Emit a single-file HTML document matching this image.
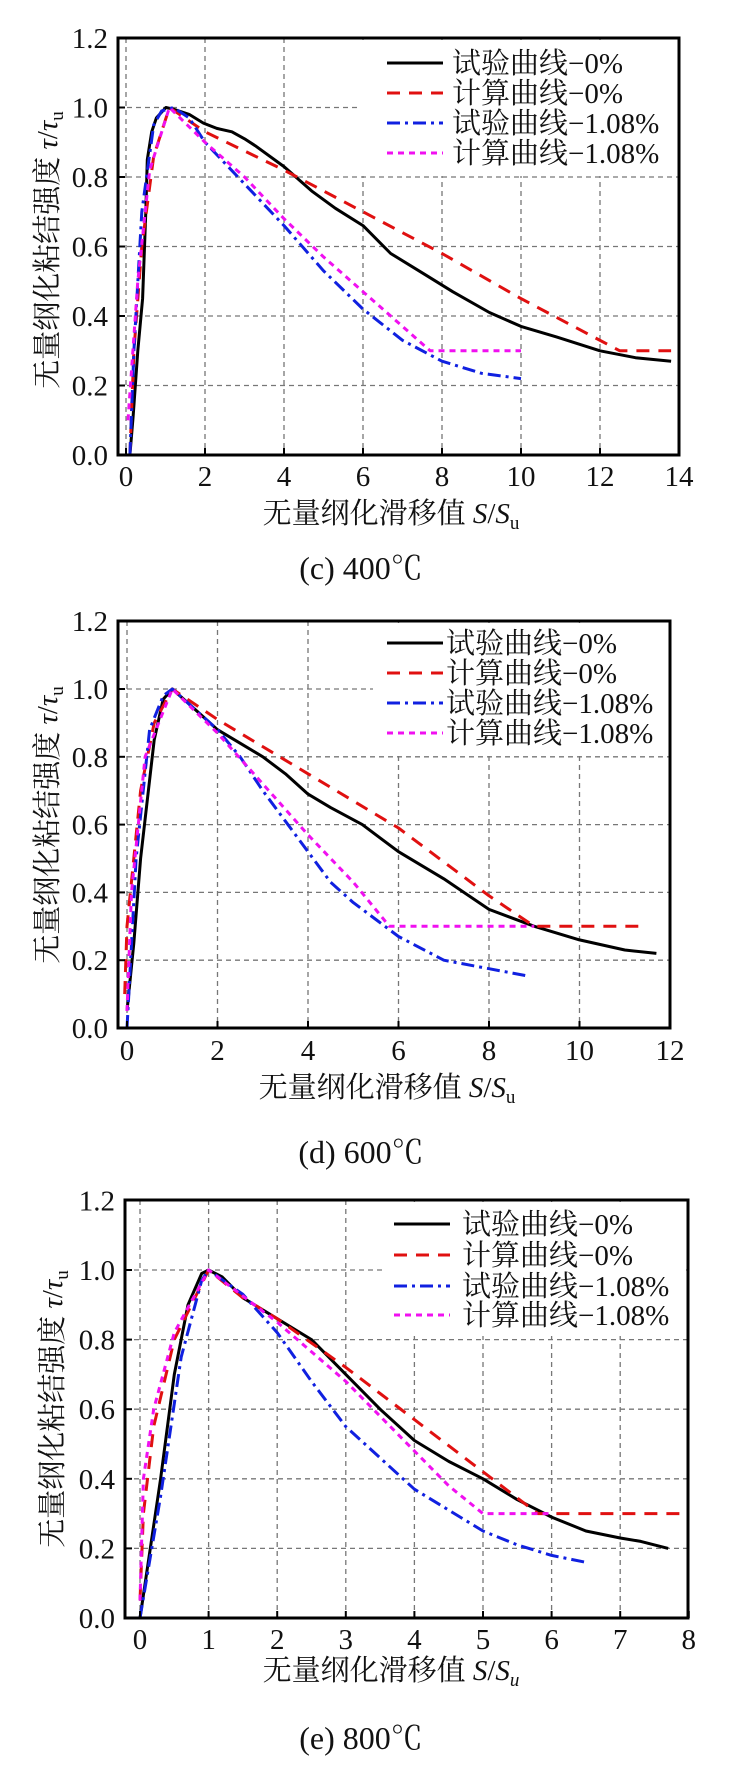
<!DOCTYPE html>
<html><head><meta charset="utf-8">
<style>
html,body{margin:0;padding:0;background:#fff;}
svg{display:block;}
text{font-family:"Liberation Serif","Noto Serif CJK SC","Noto Sans CJK SC",serif;fill:#111;}
</style></head>
<body>
<svg id="s" width="742" height="1784" viewBox="0 0 742 1784" xmlns="http://www.w3.org/2000/svg"></svg>
<script>
const S=document.getElementById('s');let h='';
const charts=[
 {x0:126,xs:39.5,xmax:14,step:2,y0:455,ys:347.5,fl:118,fr:679,ft:38,
  leg:{rx:361,ry:40,rw:317,rh:136,lx1:387,lx2:443,tx:452,ys:[63,93,123,153]},
  ytitle:[47,250],xl:[391,513],cap:[361,568],tly:486,capT:"(c) 400℃",uItal:false,
  data:[
   [[0.1,0],[0.18,0.11],[0.3,0.3],[0.42,0.45],[0.5,0.7],[0.54,0.85],[0.65,0.93],[0.77,0.97],[1.01,1.0],[1.2,0.995],[1.6,0.98],[1.96,0.955],[2.3,0.94],[2.68,0.93],[3,0.91],[3.27,0.89],[4,0.83],[4.7,0.76],[5.3,0.71],[6,0.66],[6.7,0.58],[7.56,0.52],[8.27,0.47],[9.2,0.41],[10,0.37],[10.9,0.34],[12,0.30],[12.9,0.28],[13.8,0.27]],
   [[0.1,0],[0.2,0.3],[0.4,0.6],[0.7,0.86],[1.1,1.0],[2,0.93],[4,0.82],[6,0.70],[8,0.58],[10,0.45],[12.5,0.3],[13.8,0.3]],
   [[0.1,0],[0.2,0.3],[0.4,0.7],[0.7,0.95],[0.9,0.99],[1.2,1.0],[1.6,0.97],[2,0.9],[3,0.78],[4,0.66],[5,0.53],[6,0.42],[7,0.33],[8,0.27],[9,0.235],[10,0.22]],
   [[0.05,0.1],[0.3,0.5],[0.6,0.82],[1.1,1.0],[2,0.9],[3,0.8],[4,0.68],[5,0.57],[6,0.47],[7,0.37],[7.7,0.3],[10,0.3]]
  ]},
 {x0:127,xs:45.25,xmax:12,step:2,y0:1028,ys:339,fl:118,fr:670,ft:621,
  leg:{rx:373,ry:623,rw:296,rh:132,lx1:387,lx2:443,tx:446,ys:[643,673,703,733]},
  ytitle:[47,825],xl:[387,1087],cap:[361,1152],tly:1060,capT:"(d) 600℃",uItal:false,
  data:[
   [[0,0.05],[0.15,0.25],[0.3,0.5],[0.6,0.85],[0.8,0.97],[1,1.0],[1.5,0.94],[2,0.88],[2.5,0.84],[3,0.8],[3.5,0.75],[4,0.69],[4.5,0.65],[5.2,0.6],[6,0.52],[7,0.44],[8,0.35],[9,0.3],[10,0.26],[11,0.23],[11.7,0.22]],
   [[-0.05,0.1],[0,0.3],[0.3,0.7],[0.6,0.9],[1,1.0],[2,0.91],[4,0.75],[6,0.59],[8,0.39],[9,0.3],[11.3,0.3]],
   [[0,0],[0.2,0.5],[0.5,0.88],[0.8,0.98],[1,1.0],[1.5,0.94],[2,0.88],[2.5,0.8],[3,0.7],[3.5,0.61],[4,0.52],[4.5,0.43],[5,0.37],[5.5,0.32],[6,0.27],[7,0.2],[8,0.175],[8.8,0.155]],
   [[0,0.05],[0.1,0.4],[0.4,0.8],[1,1.0],[2,0.87],[3,0.72],[4,0.57],[5,0.43],[5.8,0.3],[9,0.3]]
  ]},
 {x0:140,xs:68.6,xmax:8,step:1,y0:1618,ys:348,fl:125,fr:688,ft:1200,
  leg:{rx:384,ry:1202,rw:302,rh:134,lx1:394,lx2:450,tx:462,ys:[1224,1255,1286,1315]},
  ytitle:[52,1409],xl:[391,1670],cap:[361,1738],tly:1649,capT:"(e) 800℃",uItal:true,
  data:[
   [[0,0],[0.3,0.4],[0.5,0.7],[0.7,0.9],[0.9,0.99],[1,1.0],[1.2,0.98],[1.5,0.92],[2,0.86],[2.5,0.8],[3,0.7],[3.5,0.6],[4,0.51],[4.5,0.45],[5,0.4],[5.5,0.34],[6,0.29],[6.5,0.25],[7,0.23],[7.3,0.22],[7.7,0.2]],
   [[0,0.05],[0.05,0.3],[0.2,0.55],[0.5,0.8],[1,1.0],[1.5,0.92],[2,0.86],[3,0.72],[4,0.57],[5,0.42],[5.8,0.3],[7.9,0.3]],
   [[0,0],[0.3,0.35],[0.6,0.75],[0.9,0.97],[1,1.0],[1.5,0.93],[2,0.82],[2.5,0.68],[3,0.55],[3.5,0.46],[4,0.37],[4.5,0.31],[5,0.25],[5.5,0.21],[6,0.18],[6.5,0.16]],
   [[0,0.05],[0.05,0.4],[0.2,0.6],[0.5,0.82],[1,1.0],[2,0.85],[3,0.68],[4,0.48],[4.5,0.38],[5,0.3],[6,0.3]]
  ]}
];
const styles=[
 'stroke="#000" stroke-width="3"',
 'stroke="#e01010" stroke-width="3" stroke-dasharray="13 9"',
 'stroke="#1020e0" stroke-width="3" stroke-dasharray="13 5 3 5"',
 'stroke="#f010f0" stroke-width="3" stroke-dasharray="6 5"'];
const labels=['试验曲线−0%','计算曲线−0%','试验曲线−1.08%','计算曲线−1.08%'];
for(const c of charts){
 const X=v=>c.x0+c.xs*v, Y=v=>c.y0-c.ys*v;
 for(let v=0;v<=c.xmax+1e-9;v+=c.step){const x=X(v);h+=`<line x1="${x}" y1="${c.ft}" x2="${x}" y2="${c.y0}" stroke="#777" stroke-width="1.3" stroke-dasharray="5 4"/>`;}
 for(let k=1;k<=5;k++){const y=Y(k*0.2);h+=`<line x1="${c.fl}" y1="${y}" x2="${c.fr}" y2="${y}" stroke="#777" stroke-width="1.3" stroke-dasharray="5 4"/>`;}
 const L=c.leg;h+=`<rect x="${L.rx}" y="${L.ry}" width="${L.rw}" height="${L.rh}" fill="#fff"/>`;
 c.data.forEach((d,i)=>{h+=`<polyline fill="none" stroke-linejoin="round" ${styles[i]} points="${d.map(p=>X(p[0]).toFixed(1)+','+Y(p[1]).toFixed(1)).join(' ')}"/>`;});
 L.ys.forEach((y,i)=>{h+=`<line x1="${L.lx1}" y1="${y}" x2="${L.lx2}" y2="${y}" ${styles[i]}/>`;
  h+=`<text x="${L.tx}" y="${y+10}" font-size="29">${labels[i]}</text>`;});
 h+=`<rect x="${c.fl}" y="${c.ft}" width="${c.fr-c.fl}" height="${c.y0-c.ft}" fill="none" stroke="#000" stroke-width="3"/>`;
 for(let v=0;v<=c.xmax+1e-9;v+=c.step){const x=X(v);h+=`<line x1="${x}" y1="${c.y0}" x2="${x}" y2="${c.y0-7}" stroke="#000" stroke-width="2"/>`;
  h+=`<text x="${x}" y="${c.tly}" font-size="29" text-anchor="middle">${v}</text>`;}
 for(let k=0;k<=6;k++){const y=Y(k*0.2);h+=`<line x1="${c.fl}" y1="${y}" x2="${c.fl+7}" y2="${y}" stroke="#000" stroke-width="2"/>`;
  h+=`<text x="${c.fl-10}" y="${y+10}" font-size="29" text-anchor="end">${(k*0.2).toFixed(1)}</text>`;}
 h+=`<text transform="translate(${c.ytitle[0]+10},${c.ytitle[1]}) rotate(-90)" font-size="29" text-anchor="middle">无量纲化粘结强度 <tspan font-style="italic">τ</tspan>/<tspan font-style="italic">τ</tspan><tspan font-size="19" dy="6">u</tspan></text>`;
 h+=`<text x="${c.xl[0]}" y="${c.xl[1]+10}" font-size="29" text-anchor="middle">无量纲化滑移值 <tspan font-style="italic">S</tspan>/<tspan font-style="italic">S</tspan><tspan font-size="19" dy="6" ${c.uItal?'font-style="italic"':''}>u</tspan></text>`;
 h+=`<text x="${c.cap[0]}" y="${c.cap[1]+11}" font-size="32" text-anchor="middle">${c.capT}</text>`;
}
S.innerHTML=h;
</script>
</body></html>
